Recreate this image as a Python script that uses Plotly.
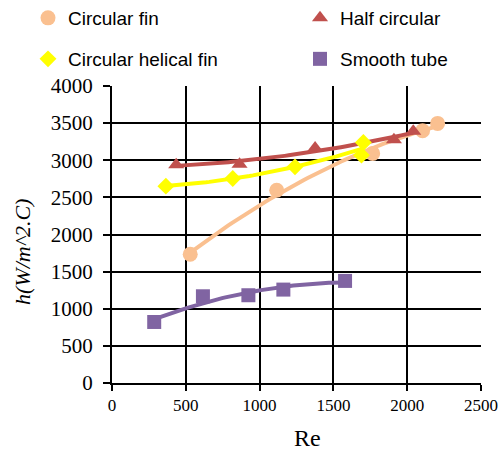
import numpy as np
import plotly.graph_objects as go

# Data
circ_x = [530, 1116, 1766, 2104, 2206]
circ_y = [1735, 2595, 3092, 3397, 3496]
half_x = [435, 864, 1376, 1910, 2041]
half_y = [2940, 2945, 3165, 3275, 3390]
heli_x = [365, 818, 1240, 1703, 1690]
heli_y = [2651, 2755, 2911, 3240, 3069]
smooth_x = [286, 616, 924, 1161, 1579]
smooth_y = [822, 1168, 1182, 1258, 1375]

series = [
    ("Circular fin", circ_x, circ_y, "#FAC090", "circle", 15, "legend"),
    ("Half circular", half_x, half_y, "#C0504D", "triangle-up", 14, "legend2"),
    ("Circular helical fin", heli_x, heli_y, "#FFFF00", "diamond", 13, "legend3"),
    ("Smooth tube", smooth_x, smooth_y, "#8064A2", "square", 14, "legend4"),
]

SERIF = "Times New Roman, Liberation Serif, serif"
SANS = "Arial, Liberation Sans, sans-serif"

fig = go.Figure()
# trendlines (2nd-order polynomial fit, like spreadsheet trendlines)
for name, xs, ys, col, sym, sz, lg in series:
    xa = np.array(xs, float)
    ya = np.array(ys, float)
    c = np.polyfit(xa, ya, 2)
    xt = np.linspace(xa.min(), xa.max(), 60)
    fig.add_trace(go.Scatter(x=xt, y=np.polyval(c, xt), mode="lines",
                             line=dict(color=col, width=4), showlegend=False,
                             hoverinfo="skip"))
for name, xs, ys, col, sym, sz, lg in series:
    fig.add_trace(go.Scatter(x=xs, y=ys, mode="markers", name=name,
                             marker=dict(color=col, symbol=sym, size=sz,
                                         line=dict(width=0)),
                             legend=lg))

legend_common = dict(orientation="h", xanchor="left", yanchor="top",
                     font=dict(family=SANS, size=19, color="black"),
                     bgcolor="rgba(0,0,0,0)")

W_PLOT = 369.0
H_PLOT = 297.0
def px2x(px):
    return (px - 112) / W_PLOT
def py2y(py):
    return (383 - py) / H_PLOT

fig.update_layout(
    width=501, height=452,
    margin=dict(l=112, r=20, t=86, b=69, autoexpand=False),
    paper_bgcolor="white", plot_bgcolor="white",
    legend=dict(x=px2x(28), y=py2y(-1), **legend_common),
    legend2=dict(x=px2x(300), y=py2y(-1), **legend_common),
    legend3=dict(x=px2x(28), y=py2y(40), **legend_common),
    legend4=dict(x=px2x(300), y=py2y(40), **legend_common),
    font=dict(family=SERIF, size=17, color="black"),
    annotations=[
        dict(text="Re", x=px2x(307), y=py2y(438), xref="paper", yref="paper",
             showarrow=False, xanchor="center", yanchor="middle",
             font=dict(size=24, family=SERIF)),
        dict(text="<i>h(W/m^2.C)</i>", x=px2x(22), y=py2y(252), xref="paper",
             yref="paper", showarrow=False, xanchor="center", yanchor="middle",
             textangle=-90, font=dict(size=22, family=SERIF)),
    ],
)
fig.update_xaxes(range=[0, 2500], dtick=500, showgrid=True, gridcolor="black",
                 gridwidth=1.5, showline=True, linecolor="black", linewidth=2,
                 ticks="outside", ticklen=6, tickcolor="black", tickwidth=2,
                 zeroline=False, automargin=False,
                 tickfont=dict(size=17, family=SERIF))
fig.update_yaxes(range=[0, 4000], dtick=500, showgrid=True, gridcolor="black",
                 gridwidth=1.5, showline=True, linecolor="black", linewidth=2,
                 ticks="outside", ticklen=7, tickcolor="black", tickwidth=2,
                 zeroline=False, automargin=False, ticklabelstandoff=6,
                 tickfont=dict(size=21, family=SERIF))

fig.write_html("out.html")
